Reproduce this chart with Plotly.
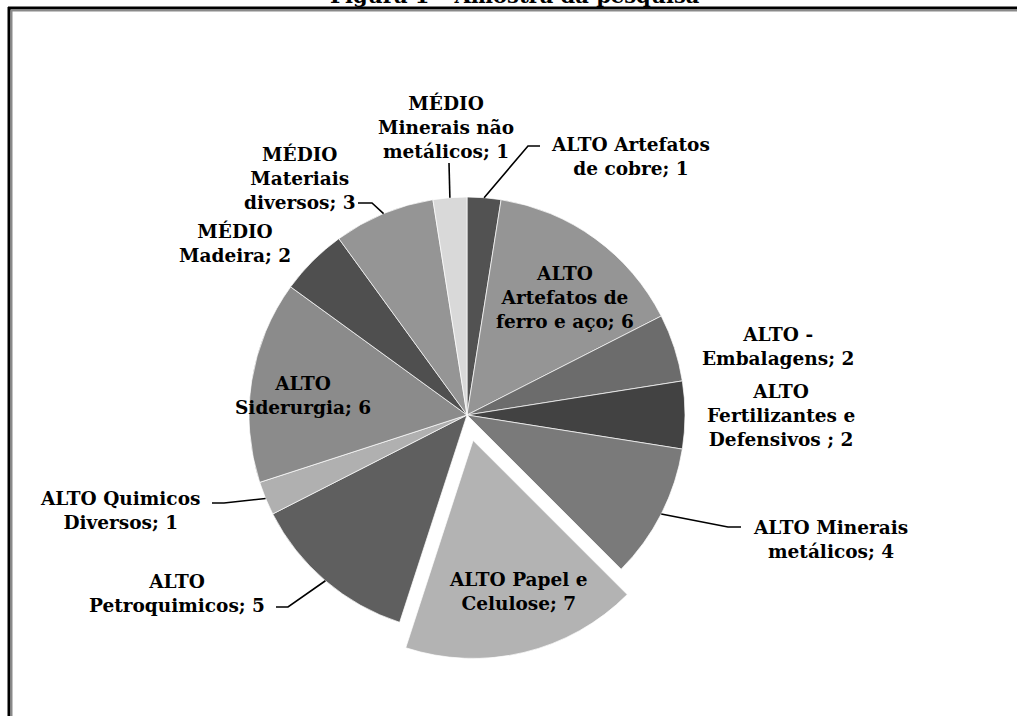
import math
import plotly.graph_objects as go

# ---------------- data ----------------
categories = [
    "ALTO Artefatos de cobre",
    "ALTO Artefatos de ferro e aço",
    "ALTO - Embalagens",
    "ALTO Fertilizantes e Defensivos",
    "ALTO Minerais metálicos",
    "ALTO Papel e Celulose",
    "ALTO Petroquimicos",
    "ALTO Quimicos Diversos",
    "ALTO Siderurgia",
    "MÉDIO Madeira",
    "MÉDIO Materiais diversos",
    "MÉDIO Minerais não metálicos",
]
values = [1, 6, 2, 2, 4, 7, 5, 1, 6, 2, 3, 1]
label_text = [
    "ALTO Artefatos<br>de cobre",
    "ALTO<br>Artefatos de<br>ferro e aço",
    "ALTO -<br>Embalagens",
    "ALTO<br>Fertilizantes e<br>Defensivos ",
    "ALTO Minerais<br>metálicos",
    "ALTO Papel e<br>Celulose",
    "ALTO<br>Petroquimicos",
    "ALTO Quimicos<br>Diversos",
    "ALTO<br>Siderurgia",
    "MÉDIO<br>Madeira",
    "MÉDIO<br>Materiais<br>diversos",
    "MÉDIO<br>Minerais não<br>metálicos",
]
title_text = "Figura 1 – Amostra da pesquisa"

# ---------------- style / layout ----------------
W, H = 1017, 716
colors = ["#525252", "#959595", "#6c6c6c", "#424242", "#7a7a7a", "#b3b3b3",
          "#5f5f5f", "#b0b0b0", "#8b8b8b", "#4f4f4f", "#959595", "#d9d9d9"]
pulls = [0, 0, 0, 0, 0, 0.12, 0, 0, 0, 0, 0, 0]
CX, CY, R = 467, 415, 218          # pie centre / radius in pixels
FONT = dict(family="DejaVu Serif", size=18.5, color="black")

# label centre positions (px) and optional leader-line elbow points (px)
label_pos = [(630, 157), (565, 297), (778, 346), (781, 415), (830, 539), (518, 591),
             (177, 593), (120, 510), (303, 395), (235, 243), (300, 178), (446, 127)]
leaders = {
    0: [(528, 146), (540, 146)],
    4: [(728, 527), (741, 527)],
    6: [(288, 607), (276, 607)],
    7: [(224, 503), (212, 503)],
    10: [(372, 203), (358, 203)],
    11: [(449, 163)],
}


def px(x):
    return x / W


def py(y):
    return 1 - y / H


half = R * (1 + max(pulls))
fig = go.Figure(go.Pie(
    labels=categories, values=values, sort=False, direction="clockwise", rotation=0,
    pull=pulls, textinfo="none", hoverinfo="label+value",
    marker=dict(colors=colors, line=dict(color="white", width=0.7)),
    domain=dict(x=[px(CX - half), px(CX + half)], y=[py(CY + half), py(CY - half)]),
    showlegend=False,
))

total = sum(values)
cum = 0
annotations = []
shapes = []
for i, (lab, v) in enumerate(zip(label_text, values)):
    mid = (cum + v / 2) / total * 2 * math.pi
    cum += v
    ex = CX + R * math.sin(mid)
    ey = CY - R * math.cos(mid)
    lx, ly = label_pos[i]
    annotations.append(dict(
        x=px(lx), y=py(ly), xref="paper", yref="paper", showarrow=False,
        text=f"<b>{lab}; {v}</b>", font=FONT, align="center",
        xanchor="center", yanchor="middle"))
    if i in leaders:
        pts = [(ex, ey)] + leaders[i]
        path = "M " + " L ".join(f"{px(a)},{py(b)}" for a, b in pts)
        shapes.append(dict(type="path", path=path, xref="paper", yref="paper",
                           line=dict(color="black", width=1.6)))

# title (cut off at the top in the reference)
annotations.append(dict(
    x=px(515), y=py(-4), xref="paper", yref="paper", showarrow=False,
    text=f"<b>{title_text}</b>", font=dict(family="DejaVu Serif", size=21, color="black"),
    xanchor="center", yanchor="middle"))

# frame
shapes += [
    dict(type="line", xref="paper", yref="paper", x0=px(8), x1=1, y0=py(8), y1=py(8),
         line=dict(color="black", width=3)),
    dict(type="line", xref="paper", yref="paper", x0=px(10.5), x1=1, y0=py(10.5), y1=py(10.5),
         line=dict(color="#8a8a8a", width=2)),
    dict(type="line", xref="paper", yref="paper", x0=px(9), x1=px(9), y0=py(7), y1=0,
         line=dict(color="black", width=3)),
    dict(type="line", xref="paper", yref="paper", x0=px(11.5), x1=px(11.5), y0=py(10), y1=0,
         line=dict(color="#8a8a8a", width=2)),
]

fig.update_layout(
    width=W, height=H, margin=dict(l=0, r=0, t=0, b=0),
    paper_bgcolor="white", plot_bgcolor="white",
    annotations=annotations, shapes=shapes,
)
fig.write_html("out.html", config={"displayModeBar": False},
               post_script="document.body.style.margin='0';document.body.style.overflow='hidden';")
